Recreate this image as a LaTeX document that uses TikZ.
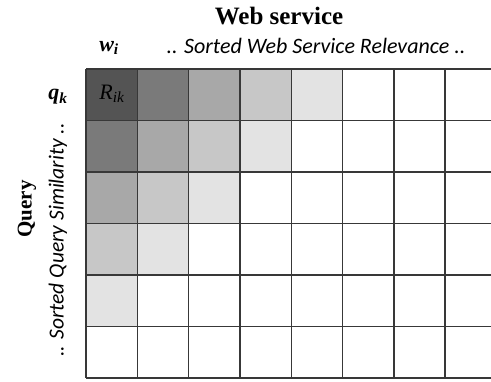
\documentclass[tikz,border=0pt]{standalone}
\usepackage{fontspec}
\setmainfont{Liberation Serif}
\newfontfamily\calib{Carlito}
\begin{document}
\begin{tikzpicture}[x=1pt,y=-1pt,
  gridline/.style={draw=black!78,line width=1.4pt},
  titletext/.style={font=\fontsize{25}{27}\selectfont\bfseries},
  axistext/.style={font=\fontsize{22}{24}\selectfont\calib\itshape},
  symtext/.style={font=\fontsize{22}{24}\selectfont\bfseries\itshape},
  celltext/.style={font=\fontsize{22}{24}\selectfont\itshape}]
\useasboundingbox (0,0) rectangle (491,382);
\clip (0,0) rectangle (491,382);
\def\cw{51.3}
\def\ch{51.5}
% shaded cells
\foreach \r in {0,...,4}{
  \foreach \c in {0,...,4}{
    \pgfmathtruncatemacro{\d}{\r+\c}
    \ifnum\d<5
      \ifcase\d \def\shade{black!67}\or \def\shade{black!52}\or \def\shade{black!34}\or \def\shade{black!22}\or \def\shade{black!11}\fi
      \fill[\shade] ({86+\c*\cw},{69+\r*\ch}) rectangle ({86+(\c+1)*\cw},{69+(\r+1)*\ch});
    \fi
  }
}
% grid
\foreach \c in {0,...,8}{
  \draw[gridline] ({86+\c*\cw},69) -- ({86+\c*\cw},378);
}
\foreach \r in {0,...,6}{
  \draw[gridline] (86,{69+\r*\ch}) -- (500,{69+\r*\ch});
}
% labels
\node[titletext] (ws) at (279,16) {Web service};
\node[symtext] (wi) at (109,48) {w\textsubscript{i}};
\node[axistext] (wsr) at (316,46) {.. Sorted Web Service Relevance ..};
\node[symtext] (qk) at (58,97) {q\textsubscript{k}};
\node[celltext] (rik) at (112,94) {R\textsubscript{ik}};
\node[font=\fontsize{21}{23}\selectfont\bfseries,rotate=90] (query) at (27,209) {Query};
\node[font=\fontsize{21.5}{23}\selectfont\calib\itshape,rotate=90] (qs) at (58,240) {.. Sorted Query Similarity ..};
\end{tikzpicture}
\end{document}
